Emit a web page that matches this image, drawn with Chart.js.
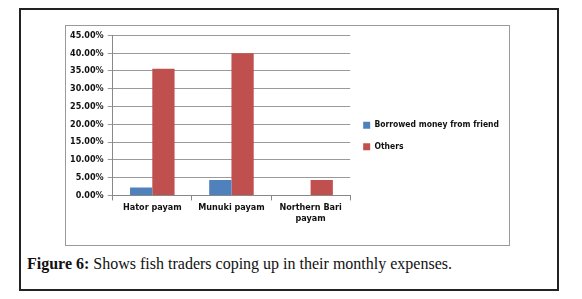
<!DOCTYPE html>
<html>
<head>
<meta charset="utf-8">
<script src="https://cdn.jsdelivr.net/npm/chart.js@4.4.0/dist/chart.umd.min.js"></script>
<style>
    body { margin: 0; background: #fff; }
    #marco {
        position: absolute; left: 19px; top: 8px; width: 536px; height: 279px;
        border: 2px solid #222;
    }
    #caja {
        position: absolute; left: 65px; top: 25px; width: 443px; height: 219px;
        border: 1px solid #9a9a9a;
    }
    #caja canvas { display: block; }
    #pie {
        position: absolute; left: 27px; top: 255px;
        font-family: "Liberation Serif", serif; font-size: 16px; color: #111;
        white-space: nowrap;
    }
</style>
</head>
<body>
<div id="marco"></div>
<div id="caja"><canvas id="grafico" width="443" height="219"></canvas></div>
<div id="pie"><b>Figure 6:</b> Shows fish traders coping up in their monthly expenses.</div>
<script>
// Datos
const categorias = ['Hator payam', 'Munuki payam', ['Northern Bari', 'payam']];
const prestamoAmigo = [2.2, 4.3, 0];
const otros = [35.6, 40.0, 4.3];
const etiquetasY = ['0.00%', '5.00%', '10.00%', '15.00%', '20.00%', '25.00%', '30.00%', '35.00%', '40.00%', '45.00%'];

const fuente = { family: '"DejaVu Sans Condensed", "DejaVu Sans", sans-serif', size: 9, weight: 'bold' };

// La leyenda de la derecha necesita mas ancho que el que le da Chart.js por defecto
const anchoLeyenda = {
    id: 'anchoLeyenda',
    beforeLayout(chart) {
        const leyenda = chart.legend;
        if (leyenda && !leyenda._parcheada) {
            const fitOriginal = leyenda.fit.bind(leyenda);
            leyenda.fit = function() {
                this.maxWidth = 160;
                fitOriginal();
            };
            leyenda._parcheada = true;
        }
    }
};

const ctx = document.getElementById('grafico').getContext('2d');
const grafico = new Chart(ctx, {
    type: 'bar',
    data: {
        labels: categorias,
        datasets: [
            {
                label: 'Borrowed money from friend',
                data: prestamoAmigo,
                backgroundColor: '#4F81BD',
                categoryPercentage: 0.5625,
                barPercentage: 1
            },
            {
                label: 'Others',
                data: otros,
                backgroundColor: '#C0504D',
                categoryPercentage: 0.5625,
                barPercentage: 1
            }
        ]
    },
    options: {
        responsive: false,
        animation: false,
        layout: { padding: { left: 0, top: 8, right: 0, bottom: 7 } },
        plugins: {
            legend: {
                position: 'right',
                labels: {
                    font: { ...fuente, size: 8.5 },
                    color: '#111',
                    boxWidth: 7,
                    boxHeight: 7,
                    padding: 13
                }
            },
            tooltip: { enabled: false }
        },
        scales: {
            x: {
                ticks: { font: fuente, color: '#111', padding: 2 },
                grid: { drawOnChartArea: false, drawTicks: true, tickLength: 5, color: '#888' },
                border: { color: '#888' },
                afterFit(escala) { escala.height += 12; }
            },
            y: {
                min: 0,
                max: 45,
                ticks: {
                    stepSize: 5,
                    font: fuente,
                    color: '#111',
                    padding: 4,
                    callback: (v, i) => etiquetasY[i]
                },
                grid: { color: '#9a9a9a', tickLength: 5 },
                border: { color: '#888' }
            }
        }
    },
    plugins: [anchoLeyenda]
});
</script>
</body>
</html>
